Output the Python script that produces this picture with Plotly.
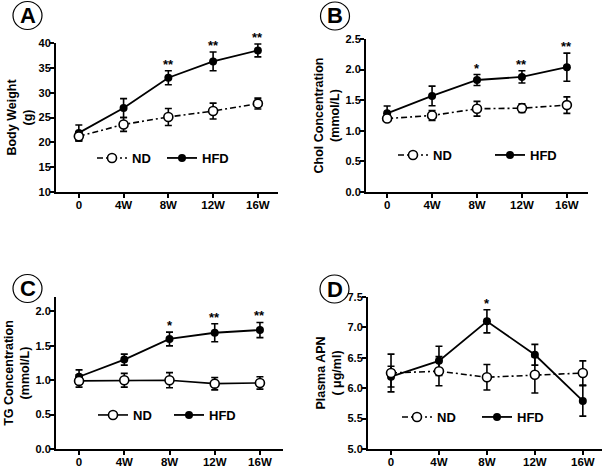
import plotly.graph_objects as go

categories = ["0", "4W", "8W", "12W", "16W"]

# Panel A: body weight (g)
bw_nd = [21.2, 23.6, 25.1, 26.3, 27.8]
bw_nd_err = [0.9, 1.4, 1.7, 1.6, 1.1]
bw_hfd = [21.9, 26.9, 33.0, 36.3, 38.5]
bw_hfd_err = [1.6, 1.9, 1.4, 1.9, 1.3]
bw_stars = ["", "", "**", "**", "**"]

# Panel B: cholesterol (mmol/L)
chol_nd = [1.20, 1.25, 1.36, 1.37, 1.42]
chol_nd_err = [0.04, 0.08, 0.12, 0.07, 0.135]
chol_hfd = [1.285, 1.57, 1.83, 1.88, 2.04]
chol_hfd_err = [0.12, 0.16, 0.09, 0.10, 0.23]
chol_stars = ["", "", "*", "**", "**"]

# Panel C: triglyceride (mmol/L)
tg_nd = [0.99, 1.00, 1.00, 0.95, 0.96]
tg_nd_err = [0.09, 0.10, 0.11, 0.09, 0.09]
tg_hfd = [1.05, 1.30, 1.60, 1.69, 1.73]
tg_hfd_err = [0.10, 0.08, 0.10, 0.13, 0.11]
tg_stars = ["", "", "*", "**", "**"]

# Panel D: plasma APN (ug/ml)
apn_nd = [6.25, 6.28, 6.18, 6.22, 6.25]
apn_nd_err = [0.31, 0.24, 0.21, 0.30, 0.20]
apn_hfd = [6.19, 6.45, 7.10, 6.55, 5.79]
apn_hfd_err = [0.17, 0.24, 0.19, 0.17, 0.25]
apn_stars = ["", "", "*", "", ""]

W, H = 603, 469
FONT = "Arial, Liberation Sans, sans-serif"

def px_x(p):
    return p / W

def px_y(p):
    return 1 - p / H

panels = [
    dict(key="", letter="A", nd=bw_nd, nde=bw_nd_err, hfd=bw_hfd, hfde=bw_hfd_err, stars=bw_stars,
         nd_dash="6px,3px,2px,3px", xdom=[56, 278], ydom=[192, 43], xr=[-0.51, 4.45],
         yr=[10, 40], dtick=5, fmt="d", title="Body Weight<br>(g)",
         circ=(27.5, 15.5), leg=(92, 158), ew=25),
    dict(key="2", letter="B", nd=chol_nd, nde=chol_nd_err, hfd=chol_hfd, hfde=chol_hfd_err, stars=chol_stars,
         nd_dash="6px,3px,2px,3px", xdom=[366, 588], ydom=[192, 39], xr=[-0.47, 4.47],
         yr=[0, 2.5], dtick=0.5, fmt=".1f", title="Chol Concentration<br>(mmol/L)",
         circ=(335, 16), leg=(393, 155), ew=52),
    dict(key="3", letter="C", nd=tg_nd, nde=tg_nd_err, hfd=tg_hfd, hfde=tg_hfd_err, stars=tg_stars,
         nd_dash="solid", xdom=[56, 283], ydom=[449, 297], xr=[-0.51, 4.51],
         yr=[0, 2.21], dtick=0.5, fmt=".1f", title="TG Concentration<br>(mmol/L)",
         circ=(27.5, 288.5), leg=(93, 415), ew=31),
    dict(key="4", letter="D", nd=apn_nd, nde=apn_nd_err, hfd=apn_hfd, hfde=apn_hfd_err, stars=apn_stars,
         nd_dash="6px,3px,2px,3px", xdom=[368, 602], ydom=[449, 297], xr=[-0.48, 4.4],
         yr=[5.0, 7.5], dtick=0.5, fmt=".1f", title="Plasma APN<br>( μg/ml)",
         circ=(334.5, 289), leg=(397, 417), ew=35),
]

fig = go.Figure()
layout = dict(
    width=W, height=H, margin=dict(l=0, r=0, t=0, b=0, autoexpand=False),
    paper_bgcolor="white", plot_bgcolor="white", showlegend=True,
    font=dict(family=FONT, color="black", size=12, weight="bold"),
)
annotations = []
shapes = []

for i, p in enumerate(panels):
    k = p["key"]
    xa = "x" + k
    ya = "y" + k
    legname = "legend" + k
    # HFD first, ND on top
    fig.add_trace(go.Scatter(
        x=categories, y=p["hfd"], xaxis=xa, yaxis=ya, name="HFD", legend=legname, legendrank=2,
        mode="lines+markers",
        line=dict(color="black", width=1.8),
        marker=dict(symbol="circle", size=8, color="black"),
        error_y=dict(type="data", array=p["hfde"], color="black", thickness=1.6, width=3.5),
    ))
    fig.add_trace(go.Scatter(
        x=categories, y=p["nd"], xaxis=xa, yaxis=ya, name="ND", legend=legname, legendrank=1,
        mode="lines+markers",
        line=dict(color="black", width=1.6, dash=p["nd_dash"]),
        marker=dict(symbol="circle", size=9, color="white", line=dict(color="black", width=1.6)),
        error_y=dict(type="data", array=p["nde"], color="black", thickness=1.6, width=3.5),
    ))
    axis_common = dict(
        showline=True, linecolor="black", linewidth=2, ticks="outside", ticklen=4,
        tickwidth=1.6, tickcolor="black", showgrid=False, zeroline=False, automargin=False,
        tickfont=dict(family=FONT, size=11, color="black", weight="bold"),
    )
    layout["xaxis" + k] = dict(
        axis_common, domain=[px_x(p["xdom"][0]), px_x(p["xdom"][1])],
        anchor=ya, type="category", range=p["xr"], ticklabelstandoff=-3,
        tickfont=dict(family=FONT, size=11.5, color="black", weight="bold"),
    )
    layout["yaxis" + k] = dict(
        axis_common, domain=[px_y(p["ydom"][0]), px_y(p["ydom"][1])],
        anchor=xa, range=p["yr"], dtick=p["dtick"], tick0=p["yr"][0] if p["fmt"] == "d" else 0,
        tickformat=p["fmt"], ticklabelstandoff=-3,
        title=dict(text=p["title"], font=dict(family=FONT, size=12.5, color="black", weight="bold"), standoff=3),
    )
    layout[legname] = dict(
        orientation="h", x=px_x(p["leg"][0]), y=px_y(p["leg"][1]), xanchor="left", yanchor="middle",
        bgcolor="rgba(0,0,0,0)", font=dict(family=FONT, size=13, color="black", weight="bold"),
        itemwidth=30, entrywidth=p["ew"], entrywidthmode="pixels",
    )
    for c, v, e, s in zip(categories, p["hfd"], p["hfde"], p["stars"]):
        if s:
            annotations.append(dict(
                x=c, y=v + e, xref=xa, yref=ya, text=s, showarrow=False, yanchor="bottom",
                yshift=-3, font=dict(family=FONT, size=13, color="black", weight="bold"),
            ))
    cx, cy = p["circ"]
    shapes.append(dict(type="circle", xref="paper", yref="paper",
                       x0=px_x(cx - 14.5), x1=px_x(cx + 14.5), y0=px_y(cy + 14), y1=px_y(cy - 14),
                       line=dict(color="black", width=1.2)))
    annotations.append(dict(x=px_x(cx), y=px_y(cy), xref="paper", yref="paper", text=p["letter"],
                            showarrow=False, xanchor="center", yanchor="middle",
                            font=dict(family=FONT, size=22, color="black", weight="bold")))

layout["annotations"] = annotations
layout["shapes"] = shapes
fig.update_layout(**layout)
fig.write_html("out.html", config={"displayModeBar": False},
               post_script="document.body.style.margin='0';document.body.style.padding='0';document.body.style.overflow='hidden';")
